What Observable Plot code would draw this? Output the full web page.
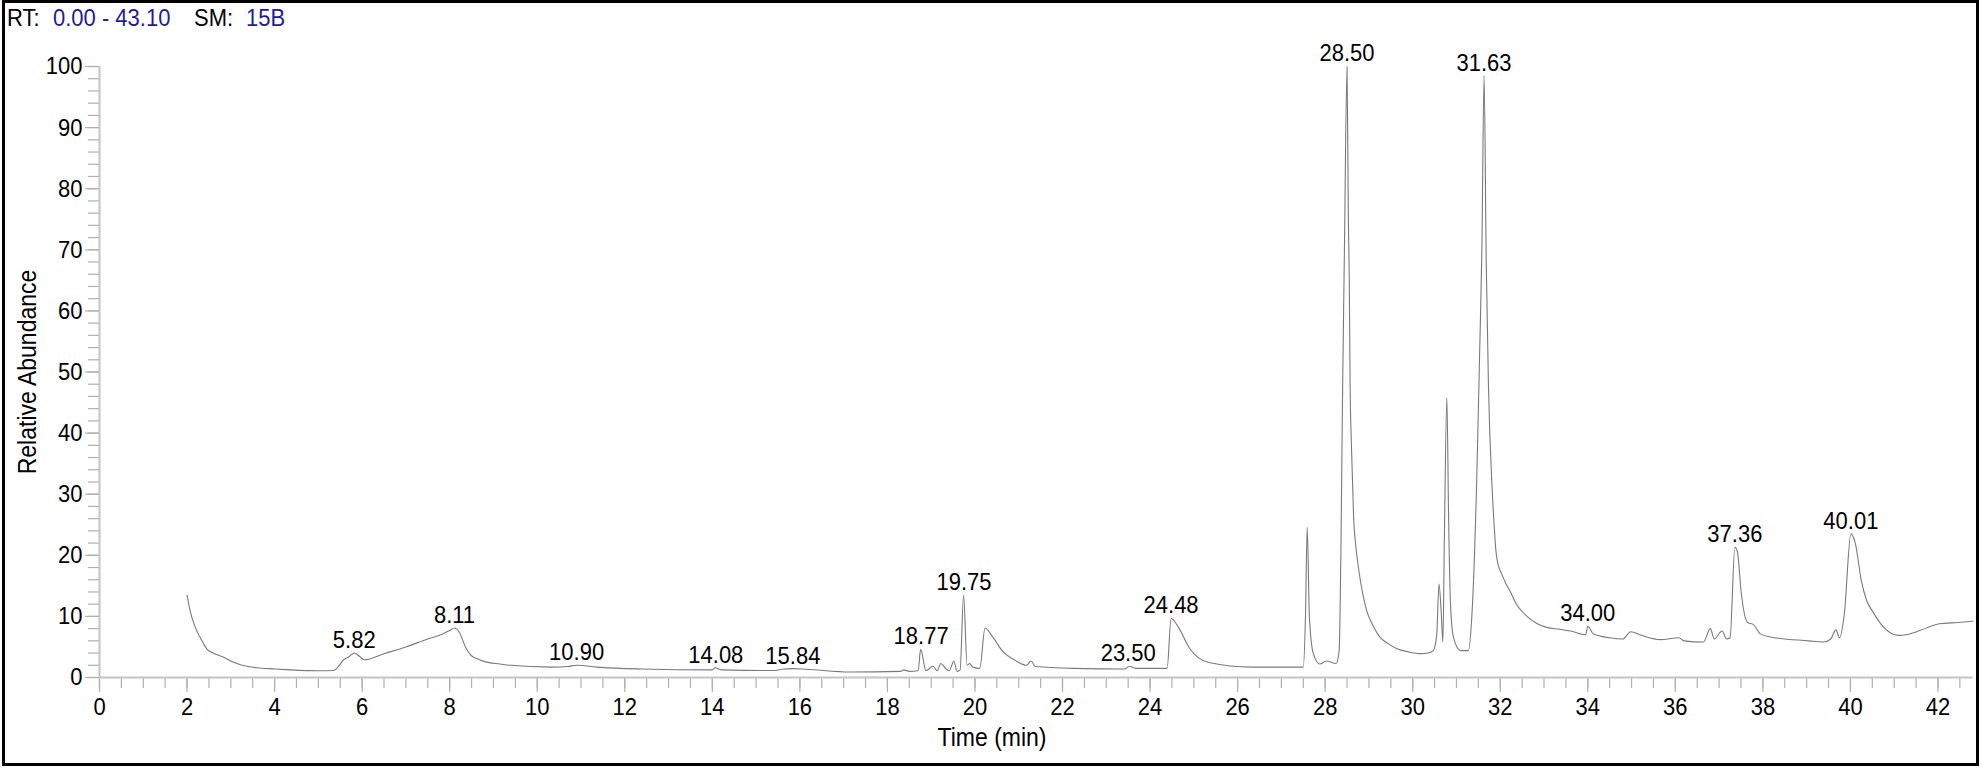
<!DOCTYPE html>
<html>
<head>
<meta charset="utf-8">
<script src="https://cdn.jsdelivr.net/npm/d3@7"></script>
<script src="https://cdn.jsdelivr.net/npm/@observablehq/plot@0.6"></script>
<style>
  html, body { margin: 0; padding: 0; background: #fff; }
  #wrap { position: relative; width: 1982px; height: 769px; overflow: hidden; font-family: "Liberation Sans", Arial, sans-serif; }
  #wrap svg { position: absolute; left: 0; top: 0; }
  #frame { position: absolute; left: 2px; top: 0px; width: 1977px; height: 766px; border: 3px solid #000; box-sizing: border-box; pointer-events: none; }
  .hdr { position: absolute; top: 5px; font-size: 22px; line-height: 26px; white-space: pre; transform: scaleY(1.12); transform-origin: 50% 50%; }
  .blue { color: #1c1c9c; }
  #ytitle { position: absolute; left: 28px; top: 372px; transform: translate(-50%, -50%) rotate(-90deg) scaleY(1.1); font-size: 23px; white-space: nowrap; }
  #xtitle { position: absolute; left: 992px; top: 738px; transform: translate(-50%, -50%) scaleY(1.1); font-size: 23px; white-space: nowrap; }
</style>
</head>
<body>
<div id="wrap">
  <div id="frame"></div>
  <span class="hdr" style="left:7px">RT:</span>
  <span class="hdr blue" style="left:53px">0.00 - 43.10</span>
  <span class="hdr" style="left:194px">SM:</span>
  <span class="hdr blue" style="left:246px">15B</span>
  <div id="ytitle">Relative Abundance</div>
  <div id="xtitle">Time (min)</div>
</div>
<script>
// Retention time (min) and relative abundance (%) of the trace
const times = [
  2.00, 2.07, 2.19, 2.34, 2.45, 2.60, 2.84, 3.00, 3.22, 3.60, 4.00, 4.36, 5.00, 5.35, 5.42, 5.58, 5.70, 5.82, 5.95, 6.05,
  6.50, 7.00, 7.50, 7.80, 8.00, 8.11, 8.22, 8.36, 8.49, 8.62, 8.80, 9.15, 9.31, 10.34, 10.70, 10.90, 11.36, 12.38, 14.00, 14.06,
  14.20, 15.44, 15.60, 15.84, 16.15, 17.15, 18.30, 18.37, 18.50, 18.70, 18.76, 18.88, 19.04, 19.14, 19.22, 19.34, 19.41, 19.52, 19.59, 19.66,
  19.74, 19.82, 19.88, 19.95, 20.11, 20.23, 20.41, 20.62, 20.92, 21.18, 21.28, 21.38, 22.25, 23.42, 23.52, 23.67, 24.39, 24.48, 24.65, 24.91,
  25.32, 26.33, 27.50, 27.55, 27.59, 27.64, 27.73, 27.88, 28.03, 28.25, 28.32, 28.36, 28.40, 28.44, 28.50, 28.53, 28.55, 28.57, 28.60, 28.65,
  28.70, 28.76, 28.85, 28.95, 29.10, 29.25, 29.45, 29.64, 29.90, 30.17, 30.35, 30.47, 30.55, 30.60, 30.65, 30.69, 30.72, 30.78, 30.82, 30.86,
  30.93, 31.09, 31.27, 31.35, 31.46, 31.53, 31.58, 31.63, 31.68, 31.73, 31.81, 31.86, 31.90, 31.95, 32.03, 32.12, 32.22, 32.37, 32.50, 32.68,
  32.85, 33.06, 33.36, 33.61, 33.95, 34.00, 34.13, 34.50, 34.80, 34.98, 35.23, 35.66, 36.08, 36.20, 36.64, 36.80, 36.89, 37.07, 37.17, 37.25,
  37.36, 37.42, 37.50, 37.65, 37.78, 37.95, 38.20, 39.05, 39.39, 39.55, 39.67, 39.75, 39.86, 40.01, 40.11, 40.25, 40.37, 40.50, 40.76, 41.10,
  41.27, 41.77, 42.03, 42.46, 42.80
];
const abundance = [
  13.5, 10.9, 8.2, 6.0, 4.7, 4.0, 3.3, 2.7, 2.1, 1.6, 1.4, 1.25, 1.1, 1.15, 1.5, 2.9, 3.4, 4.0, 3.4, 2.9,
  3.9, 5.0, 6.3, 7.0, 7.7, 8.1, 7.4, 5.0, 3.6, 3.1, 2.6, 2.2, 2.05, 1.7, 1.8, 2.0, 1.7, 1.4, 1.25, 1.6,
  1.25, 1.15, 1.35, 1.45, 1.35, 0.9, 1.0, 1.25, 1.0, 1.1, 4.6, 1.1, 1.85, 1.1, 2.3, 1.4, 1.1, 2.7, 1.0, 1.2,
  13.5, 2.0, 2.3, 1.7, 1.5, 8.1, 6.6, 4.4, 2.8, 2.0, 2.7, 1.8, 1.5, 1.4, 1.85, 1.5, 1.5, 9.7, 8.2, 4.7,
  2.5, 1.7, 1.7, 9.9, 24.6, 9.9, 3.9, 2.2, 2.7, 2.3, 4.4, 20.8, 48, 69.8, 100, 75, 66, 48, 38, 26.2,
  21.5, 18.0, 14.0, 10.9, 8.4, 6.6, 5.5, 4.7, 4.2, 3.9, 4.0, 4.4, 7.1, 15.3, 10.9, 5.8, 20.8, 45.8, 26.2, 12.6,
  6.6, 4.4, 4.4, 9.9, 31.6, 53.4, 69.8, 98.5, 68, 48, 31.6, 25.0, 20.8, 18.5, 17.0, 15.5, 14.2, 12.0, 10.8, 9.6,
  8.8, 8.2, 7.9, 7.6, 7.0, 8.4, 7.1, 6.5, 6.3, 7.5, 6.9, 6.2, 6.5, 6.0, 5.8, 8.0, 6.3, 7.6, 6.3, 6.5,
  21.3, 20.5, 14.2, 9.0, 8.7, 7.1, 6.6, 6.0, 5.8, 6.3, 7.8, 6.5, 10.4, 23.5, 22.0, 15.8, 12.6, 10.9, 8.2, 6.9,
  7.0, 8.2, 8.8, 9.0, 9.2
];

// Annotated peaks
const peakLabels = ["5.82", "8.11", "10.90", "14.08", "15.84", "18.77", "19.75", "23.50", "24.48", "28.50", "31.63", "34.00", "37.36", "40.01"];
const peakHeights = [4.0, 8.1, 2.0, 1.6, 1.45, 4.6, 13.5, 1.85, 9.7, 100, 98.5, 8.4, 21.3, 23.5];

// Axis ticks
const xMajorTicks = d3.range(0, 43, 2);
const xMinorTicks = d3.range(0, 43, 0.5);
const yMajorTicks = d3.range(0, 101, 10);
const yMinorTicks = d3.range(0, 101, 2);

const trace = times.map((t, i) => ({t, v: abundance[i]}));
const peaks = peakLabels.map((s, i) => ({t: +s, v: peakHeights[i], label: s}));

const tickColor = "#b0b0b0";
const chart = Plot.plot({
  width: 1982,
  height: 769,
  marginLeft: 99,
  marginRight: 9.5,
  marginTop: 66,
  marginBottom: 92,
  x: {domain: [0, 42.8]},
  y: {domain: [0, 100]},
  style: {fontFamily: "'Liberation Sans', Arial, sans-serif", fontSize: "22px", color: "#000", background: "transparent", overflow: "visible"},
  marks: [
    Plot.axisX({ticks: xMinorTicks, tickSize: 11, text: null, label: null, stroke: tickColor, strokeWidth: 1.2}),
    Plot.axisX({ticks: xMajorTicks, tickSize: 15, tickPadding: 6, label: null, stroke: tickColor, strokeWidth: 1.2, fill: "#000", fontSize: 22, tickFormat: d => String(d)}),
    Plot.axisY({ticks: yMinorTicks, tickSize: 11, text: null, label: null, stroke: tickColor, strokeWidth: 1.2}),
    Plot.axisY({ticks: yMajorTicks, tickSize: 14, tickPadding: 3, label: null, stroke: tickColor, strokeWidth: 1.2, fill: "#000", fontSize: 22, tickFormat: d => String(d)}),
    Plot.ruleY([0], {stroke: "#c4c4c4", strokeWidth: 2}),
    Plot.ruleX([0], {stroke: "#c4c4c4", strokeWidth: 2}),
    Plot.line(trace, {x: "t", y: "v", stroke: "#7a7a7a", strokeWidth: 1.1, curve: "monotone-x"}),
    Plot.text(peaks, {x: "t", y: "v", text: "label", dy: -6, lineAnchor: "bottom", textAnchor: "middle", fill: "#000", fontSize: 22})
  ]
});
document.getElementById("wrap").prepend(chart);

// Slightly stretch text vertically to match the tall glyphs of the original
chart.querySelectorAll("text").forEach(t => {
  const bb = t.getBBox();
  const cy = bb.y + bb.height / 2;
  const tr = t.getAttribute("transform") || "";
  t.setAttribute("transform", `${tr} translate(0,${cy}) scale(1,1.12) translate(0,${-cy})`);
});
</script>
</body>
</html>
